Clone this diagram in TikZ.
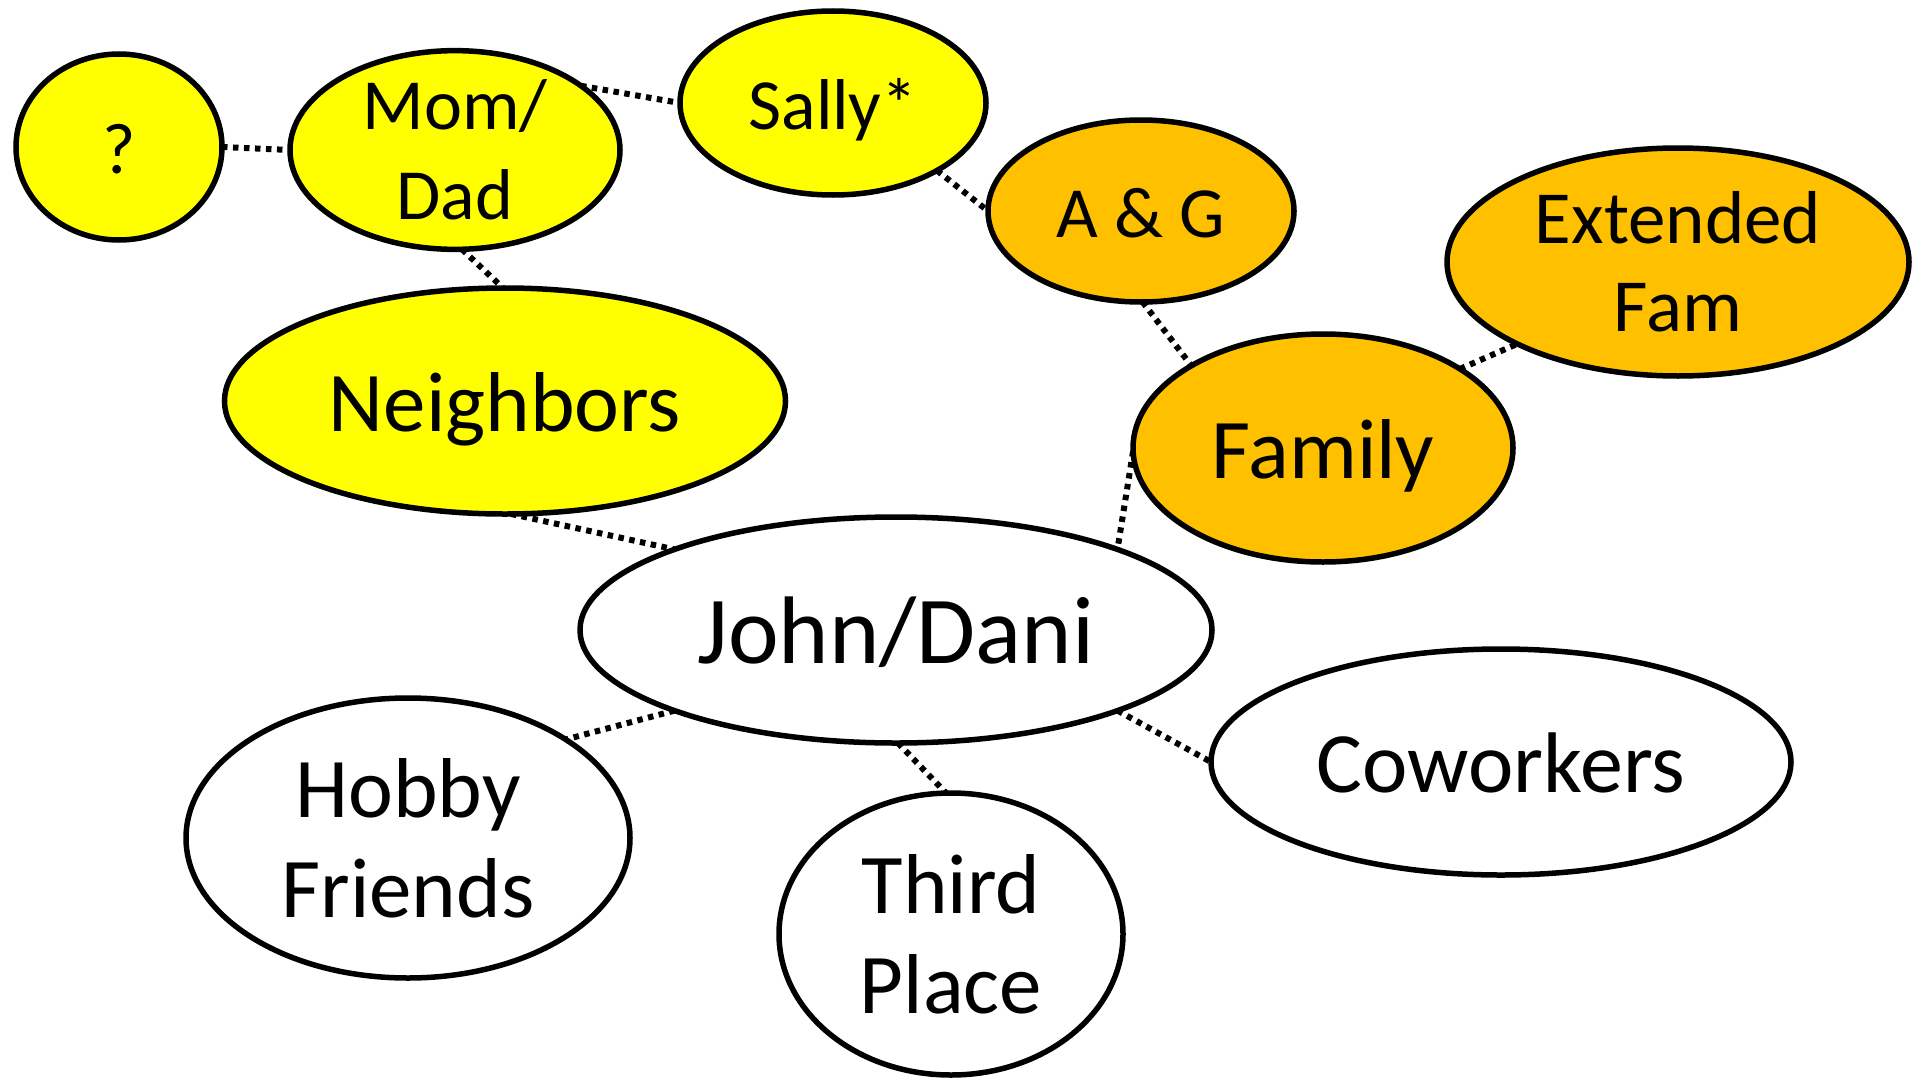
\documentclass[tikz,border=0pt]{standalone}
\usepackage{fontspec}
\setmainfont{Carlito}
\usetikzlibrary{shapes.geometric}
\definecolor{yel}{RGB}{255,255,0}
\definecolor{org}{RGB}{255,192,0}
\begin{document}
\begin{tikzpicture}[x=1pt,y=-1pt,
  bub/.style={ellipse, draw=black, line width=5.5pt, inner sep=0pt, outer sep=0pt, align=center, text=black},
  small/.style={font=\fontsize{72}{90}\selectfont},
  big/.style={font=\fontsize{85}{100}\selectfont},
  oneline/.style={text height=#1, text depth=0pt},
  conn/.style={line width=6pt, dash pattern=on 5.5pt off 5.5pt},
  ]
\useasboundingbox (0,0) rectangle (1921,1081);
% yellow
\node[bub, small, oneline=52pt, fill=yel, minimum width=206, minimum height=186] (q) at (119,147) {?};
\node[bub, small, fill=yel, minimum width=330, minimum height=184] (md) at (455,150) {Mom/\\Dad};
\node[bub, small, oneline=52pt, fill=yel, minimum width=306, minimum height=184] (sally) at (833,103) {Sally*};
\node[bub, big, oneline=60.4pt, fill=yel, minimum width=561, minimum height=226] (nb) at (505,401) {Neighbors};
% orange
\node[bub, small, oneline=52pt, fill=org, minimum width=306, minimum height=182] (ag) at (1141,211) {A \& G};
\node[bub, font=\fontsize{75}{88}\selectfont, fill=org, minimum width=462, minimum height=228] (ext) at (1678,262) {Extended\\Fam};
\node[bub, big, oneline=60.4pt, fill=org, minimum width=380, minimum height=228] (fam) at (1323,448) {Family};
% white
\node[bub, font=\fontsize{96}{110}\selectfont, oneline=67.5pt, fill=white, minimum width=632, minimum height=226] (jd) at (896,630) {John/Dani};
\node[bub, font=\fontsize{86}{100}\selectfont, oneline=61pt, fill=white, minimum width=580, minimum height=226] (cw) at (1501,762) {Coworkers};
\node[bub, big, fill=white, minimum width=444, minimum height=280] (hf) at (408,838) {Hobby\\Friends};
\node[bub, big, fill=white, minimum width=344, minimum height=282] (tp) at (951,934) {Third\\Place};
% connectors
\draw[conn] (q.0) -- (md.180);
\draw[conn] (md.27) -- (sally.180);
\draw[conn] (sally.-33) -- (ag.180);
\draw[conn] (md.-86) -- (nb.91);
\draw[conn] (ag.-89) -- (fam.148);
\draw[conn] (fam.30) -- (ext.207);
\draw[conn] (fam.181) -- (jd.20);
\draw[conn] (nb.-87) -- (jd.160);
\draw[conn] (jd.200) -- (hf.32);
\draw[conn] (jd.-89) -- (tp.92);
\draw[conn] (jd.-20) -- (cw.180);
\end{tikzpicture}
\end{document}
